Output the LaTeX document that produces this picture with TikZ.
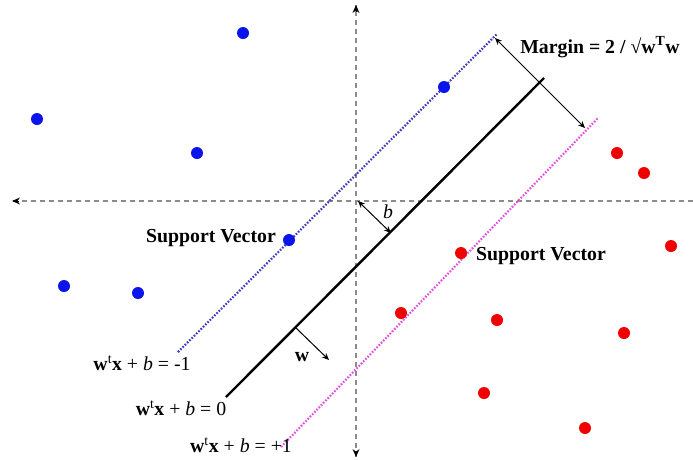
\documentclass[tikz,border=0pt]{standalone}
\usepackage{fontspec}
\setmainfont{Liberation Serif}
\usetikzlibrary{arrows.meta}
\definecolor{ptblue}{RGB}{10,20,235}
\definecolor{ptred}{RGB}{240,0,0}
\definecolor{lnblue}{RGB}{60,60,190}
\definecolor{lnmag}{RGB}{225,80,225}
\definecolor{axgray}{RGB}{140,140,140}
\tikzset{
  bluept/.style={circle,fill=ptblue,inner sep=0pt,minimum size=12pt},
  redpt/.style={circle,fill=ptred,inner sep=0pt,minimum size=12pt},
  axisline/.style={axgray,line width=1.3pt,dash pattern=on 5pt off 4pt},
  lbl/.style={font=\fontsize{19.8}{22}\selectfont\bfseries,inner sep=0pt},
  eqlbl/.style={font=\fontsize{19.8}{22}\selectfont,inner sep=0pt},
  hyper/.style={line width=2.4pt},
  marginline/.style={line width=2.2pt,dash pattern=on 1.6pt off 1.6pt},
  arr/.style={line width=1pt,-{Stealth[length=7pt,width=6pt]}},
  darr/.style={line width=1pt,{Stealth[length=7pt,width=6pt]}-{Stealth[length=7pt,width=6pt]}},
}
\begin{document}
\begin{tikzpicture}[x=1pt,y=-1pt]
\fill[white] (0,0) rectangle (693,459);
\useasboundingbox (0,0) rectangle (693,459);
% axes
\coordinate (axL) at (12,201);
\coordinate (axR) at (693,201);
\coordinate (axT) at (356,5);
\coordinate (axB) at (356,457);
\coordinate (O) at (358,201);
\draw[axisline] (axR) -- (axL);
\draw[axisline] (axB) -- (axT);
\draw[black,line width=0pt,-{Stealth[length=8pt,width=7pt]}] ([xshift=6pt]axL) -- (axL);
\draw[black,line width=0pt,-{Stealth[length=8pt,width=7pt]}] ([yshift=-6pt]axT) -- (axT);
\draw[black,line width=0pt,-{Stealth[length=8pt,width=7pt]}] ([yshift=6pt]axB) -- (axB);
% hyperplanes
\coordinate (h0a) at (226,397);
\coordinate (h0b) at (544,78);
\coordinate (hma) at (178,352);
\coordinate (hmb) at (497,34);
\coordinate (hpa) at (281,447);
\coordinate (hpb) at (598,118);
\draw[hyper] (h0a) -- (h0b);
\draw[marginline,lnblue] (hma) -- (hmb);
\draw[marginline,lnmag] (hpa) -- (hpb);
% margin arrow
\coordinate (mA) at (495,38);
\coordinate (mB) at (585,128);
\draw[darr] (mA) -- (mB);
% b arrow
\coordinate (bA) at (358,201);
\coordinate (bB) at (391,233);
\draw[darr] (bA) -- (bB);
\node[font=\fontsize{19.8}{22}\selectfont\itshape,inner sep=0pt] (blbl) at (388,212) {b};
% w arrow
\coordinate (wA) at (295,327);
\coordinate (wB) at (329,360);
\draw[arr] (wA) -- (wB);
\node[lbl] (wlbl) at (302,357) {w};
% points
\node[bluept] (b1) at (243,33) {};
\node[bluept] (b2) at (37,119) {};
\node[bluept] (b3) at (197,153) {};
\node[bluept] (b4) at (444,87) {};
\node[bluept] (b5) at (289,240) {};
\node[bluept] (b6) at (64,286) {};
\node[bluept] (b7) at (138,293) {};
\node[redpt] (r1) at (617,153) {};
\node[redpt] (r2) at (644,173) {};
\node[redpt] (r3) at (671,246) {};
\node[redpt] (r4) at (461,253) {};
\node[redpt] (r5) at (401,313) {};
\node[redpt] (r6) at (497,320) {};
\node[redpt] (r7) at (624,333) {};
\node[redpt] (r8) at (484,393) {};
\node[redpt] (r9) at (585,428) {};
% labels
\node[lbl] (mlbl) at (600,47) {Margin = 2 / √w\textsuperscript{T}w};
\node[lbl] (svl) at (211,238) {Support Vector};
\node[lbl] (svr) at (541,256) {Support Vector};
\node[eqlbl] (eqm) at (142,363) {\textbf{w}\textsuperscript{t}\textbf{x} + \textit{b} = -1};
\node[eqlbl] (eq0) at (181,408) {\textbf{w}\textsuperscript{t}\textbf{x} + \textit{b} = 0};
\node[eqlbl] (eqp) at (241,445) {\textbf{w}\textsuperscript{t}\textbf{x} + \textit{b} = +1};
\end{tikzpicture}
\end{document}
